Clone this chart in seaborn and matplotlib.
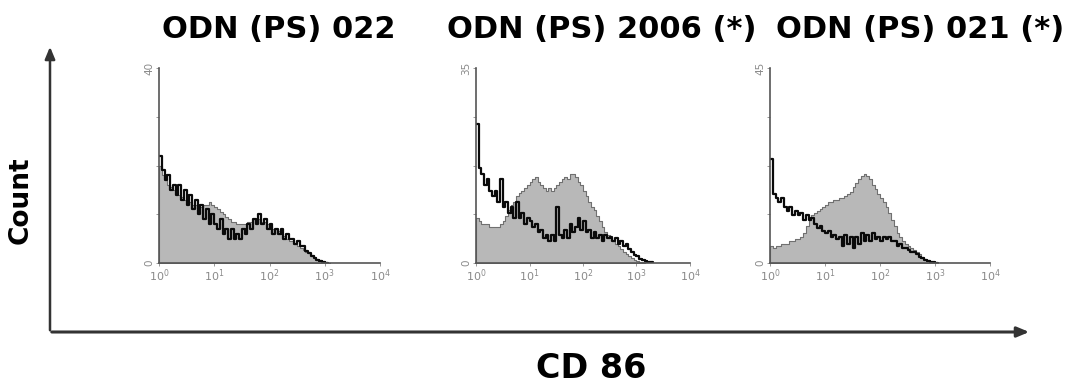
import numpy as np
import pandas as pd
import matplotlib
matplotlib.use("Agg")
import matplotlib.pyplot as plt
import seaborn as sns

# ---- data (counts per log10 bin, bin width 0.05 decades starting at 10^0) ----
panel_titles = ["ODN (PS) 022", "ODN (PS) 2006 (*)", "ODN (PS) 021 (*)"]
y_max_labels = [40, 35, 45]
x_tick_labels = ["10$^0$", "10$^1$", "10$^2$", "10$^3$", "10$^4$"]

p1_black = [22, 19, 17, 18, 15, 16, 14, 16, 13, 15, 12, 14, 11, 13, 10, 12, 9, 11, 8, 10,
            8, 7, 9, 6, 7, 5, 7, 5, 6, 5, 7, 6, 8, 7, 9, 8, 10, 8, 9, 7,
            8, 6, 7, 6, 7, 5, 6, 5, 5, 4, 4.5, 3.5, 3.5, 2.5, 2, 1.5, 1, 0.7, 0.4, 0.2, 0.1]
p1_gray = [20, 18, 17, 16, 15.5, 15, 14.5, 14, 13.5, 13, 13, 12.5, 12, 12, 11.5, 11.5, 12, 12, 12.5, 12,
           11.5, 11, 10.5, 10, 9.5, 9, 8.5, 8.5, 8, 8, 8, 8, 8.5, 8.5, 9, 9, 9, 8.5, 8.5, 8,
           7.5, 7, 7, 6.5, 6, 5.5, 5, 4.5, 4.5, 4, 3.5, 3, 2.7, 2.3, 2, 1.6, 1.2, 0.9, 0.6, 0.4, 0.2, 0.1]

p2_black = [25, 17, 16, 14, 15, 13, 12, 13, 11, 15, 10, 11, 9, 10, 8, 11, 8, 9, 7, 8,
            7.5, 6.5, 7, 5.5, 6, 4.5, 5, 4, 5, 4, 10, 5, 4.5, 6, 4.5, 7, 5.5, 6.5, 8, 6,
            7.5, 5.5, 6, 4.5, 5.5, 4.5, 5, 4, 5, 4.5, 4.7, 4, 4.5, 3.5, 4, 3, 3.5, 2.5, 2, 1.5,
            1.2, 0.8, 0.5, 0.3, 0.2, 0.1]
p2_gray = [8, 7.5, 7, 7, 7, 6.5, 6.5, 6.5, 6.5, 7, 7.5, 8.5, 9.5, 10.5, 11, 12, 12.5, 13, 13.5, 14,
           14.5, 15, 15.5, 14.5, 14, 13.5, 13, 13.5, 13, 13.5, 14, 14.5, 15, 15.5, 15, 16, 16, 15.5, 14.5, 14,
           13, 12, 11, 10, 9.5, 8.5, 7.5, 6.5, 5.5, 5, 4.5, 4, 3.5, 3, 2.5, 2, 1.6, 1.2, 0.9, 0.6,
           0.4, 0.2, 0.1]

p3_black = [24, 16, 15, 14, 15, 13, 12, 13, 11, 12, 11, 11.5, 10, 11, 10, 10.5, 9, 8, 8.5, 7.5,
            7, 7.5, 6, 6.5, 5.5, 6, 4, 6.5, 4.5, 6, 3.5, 6, 4.5, 7, 5, 6.5, 5, 7, 5.5, 6,
            5, 6, 5.5, 6, 5, 5, 4, 4.5, 3.5, 3.5, 3, 2.5, 2.5, 2, 1.5, 1.2, 0.8, 0.5, 0.3, 0.2, 0.1]
p3_gray = [4, 3.5, 4, 4, 4.5, 4.5, 4.5, 5, 5, 5.5, 5.5, 6, 7, 8.5, 10, 11, 11.5, 12, 12.5, 13,
           13.5, 14, 14, 14.5, 14.5, 15, 15, 15.5, 16, 16.5, 17.5, 18.5, 19.5, 20, 20.5, 20, 19.5, 18, 17, 16,
           15, 14, 13, 11.5, 10, 8.5, 7, 6, 5, 4.5, 4, 3.5, 3, 2.5, 2, 1.5, 1, 0.7, 0.4, 0.2, 0.1]

black_series = [p1_black, p2_black, p3_black]
gray_series = [p1_gray, p2_gray, p3_gray]
BIN_W = 0.05

sns.set_theme(style="white")
plt.rcParams['font.family'] = ['DejaVu Sans']

fig = plt.figure(figsize=(10.68, 3.87), dpi=100)

W, H = 1068.0, 387.0
panel_px = [(159, 380), (476, 690), (770, 990)]
top_px, bot_px = 68, 263


def hist_frame(vals):
    v = np.asarray(vals, dtype=float)
    n = len(v)
    centers = (np.arange(n) + 0.5) * BIN_W
    return pd.DataFrame({"logx": centers, "count": v}), (0.0, n * BIN_W)


for i in range(3):
    l, r = panel_px[i]
    ax = fig.add_axes([l / W, 1 - bot_px / H, (r - l) / W, (bot_px - top_px) / H])
    gdf, grange = hist_frame(gray_series[i])
    bdf, brange = hist_frame(black_series[i])
    sns.histplot(data=gdf, x="logx", weights="count", binwidth=BIN_W, binrange=grange,
                 element="step", fill=True, color="#b8b8b8", alpha=1.0,
                 edgecolor="#707070", linewidth=0.8, ax=ax)
    sns.histplot(data=bdf, x="logx", weights="count", binwidth=BIN_W, binrange=brange,
                 element="step", fill=False, color="#0a0a0a", linewidth=1.6, ax=ax)
    ymax = y_max_labels[i]
    ax.set_xlim(0, 4)
    ax.set_ylim(0, ymax)
    ax.set_xticks(range(5))
    ax.set_xticklabels(x_tick_labels, fontsize=8, color="#8a8a8a")
    yt = np.linspace(0, ymax, 5)
    ax.set_yticks(yt)
    ax.set_yticklabels(["0", "", "", "", str(ymax)], fontsize=7.5, color="#8a8a8a",
                       rotation=90, va="center")
    ax.set_xlabel("")
    ax.set_ylabel("")
    for s in ["top", "right"]:
        ax.spines[s].set_visible(False)
    for s in ["left", "bottom"]:
        ax.spines[s].set_color("#555555")
        ax.spines[s].set_linewidth(1.2)
    ax.tick_params(axis="both", length=2, width=0.6, color="#888888", pad=1.5, left=True, bottom=True)
    ax.patch.set_alpha(0)

title_cx = [279, 602, 920]
for t, cx in zip(panel_titles, title_cx):
    fig.text(cx / W, 1 - 29 / H, t, ha="center", va="center", fontsize=22,
             fontweight="bold", color="black")

oax = fig.add_axes([0, 0, 1, 1])
oax.set_xlim(0, W)
oax.set_ylim(H, 0)
oax.axis("off")
oax.patch.set_alpha(0)
oax.annotate("", xy=(50, 44), xytext=(50, 333),
             arrowprops=dict(arrowstyle="-|>,head_length=0.6,head_width=0.25", color="#333333", lw=1.8))
oax.annotate("", xy=(1032, 332), xytext=(49, 332),
             arrowprops=dict(arrowstyle="-|>,head_length=0.6,head_width=0.25", color="#333333", lw=2.2))

fig.text(21 / W, 1 - 200 / H, "Count", rotation=90, ha="center", va="center",
         fontsize=19, fontweight="bold", color="black")
fig.text(591 / W, 1 - 385 / H, "CD 86", ha="center", va="bottom",
         fontsize=24, fontweight="bold", color="black")

fig.savefig("out.png", dpi=100)
